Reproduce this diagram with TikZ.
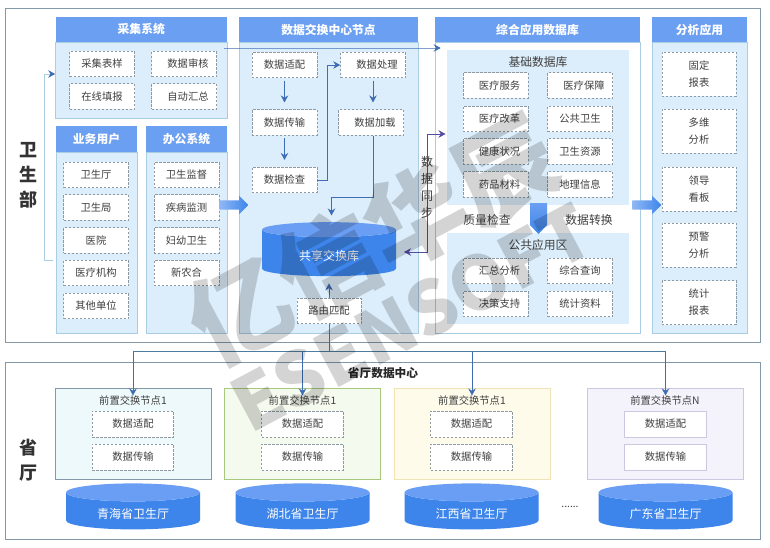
\documentclass[tikz,border=0pt]{standalone}
\usepackage{fontspec}
\setmainfont{Noto Sans CJK SC}
\usetikzlibrary{arrows.meta,shapes.geometric,shapes.arrows}
\definecolor{headblue}{HTML}{6B9FF2}
\definecolor{panelblue}{HTML}{DCEEFB}
\definecolor{panelline}{HTML}{A9CDE3}
\definecolor{frameline}{HTML}{8499A8}
\definecolor{dashline}{HTML}{8E9AA3}
\definecolor{bodytext}{HTML}{3F3F3F}
\definecolor{arrowblue}{HTML}{3F6DB5}
\definecolor{busline}{HTML}{4F7C9E}
\definecolor{cylbody}{HTML}{3D85EA}
\definecolor{cyltop}{HTML}{6A9EF4}
\definecolor{cyanfill}{HTML}{EEF9FC}
\definecolor{greenline}{HTML}{A8C87E}
\definecolor{greenfill}{HTML}{F5FAEF}
\definecolor{yellowline}{HTML}{F0E4B4}
\definecolor{yellowfill}{HTML}{FEFBEB}
\definecolor{violetline}{HTML}{CCC8E0}
\definecolor{violetfill}{HTML}{F4F2FB}
\newcommand{\dbtext}[1]{\smash{\raisebox{-7pt}{#1}}}
\begin{document}
\begin{tikzpicture}[x=1pt, y=-1pt,
	frame/.style = {draw=frameline, fill=white, line width=0.8pt, minimum width=755pt, inner sep=0pt},
	head/.style = {fill=headblue, draw=none, text=white, font=\fontsize{11.8}{14}\selectfont\bfseries, minimum height=25pt, inner sep=0pt},
	panel/.style = {fill=panelblue, draw=panelline, line width=0.6pt, inner sep=0pt},
	area/.style = {fill=panelblue, draw=none, minimum width=182pt, inner sep=0pt},
	box/.style = {draw=dashline, dashed, dash pattern=on 2.4pt off 1.6pt, line width=0.6pt, fill=white, text=bodytext, font=\fontsize{10.3}{17}\selectfont, align=center, minimum width=65pt, minimum height=25.5pt, inner sep=0pt},
	boxr/.style = {box, execute at begin node=\kern8pt},
	tall/.style = {box, minimum width=74pt, minimum height=44pt},
	wide/.style = {box, minimum width=81.5pt, minimum height=26pt},
	front/.style = {line width=0.8pt, minimum width=156pt, minimum height=91pt, inner sep=0pt},
	txt/.style = {text=bodytext, font=\fontsize{11.8}{14}\selectfont, inner sep=0pt},
	small/.style = {text=bodytext, font=\fontsize{10.3}{12}\selectfont, inner sep=0pt},
	side/.style = {text=black!80, font=\fontsize{18}{25}\selectfont\bfseries, align=center, inner sep=0pt},
	db/.style = {cylinder, shape border rotate=90, cylinder uses custom fill, cylinder body fill=cylbody, cylinder end fill=cyltop, draw=none, shape aspect=0.25, minimum width=134pt, inner sep=0pt, text=white, font=\fontsize{12}{14}\selectfont},
	flow/.style = {draw=arrowblue, line width=0.8pt, -{Stealth[length=7pt,width=7.5pt]}},
	bus/.style = {draw=busline, line width=0.8pt},
	syncline/.style = {draw=arrowblue!70!violet, line width=0.9pt, {Stealth[length=7pt,width=7.5pt]}-{Stealth[length=7pt,width=7.5pt]}},
	blockarrow/.style = {single arrow, draw=none, left color=headblue!75, right color=cylbody, minimum height=29pt, inner xsep=0pt, inner ysep=4.5pt, single arrow head extend=4.5pt, single arrow tip angle=90},
	water/.style = {text=black, opacity=0.17, rotate=28, inner sep=0pt}]
	\useasboundingbox (0,0) rectangle (770,548);

	% top frame
	\node[frame, minimum height=334pt] (top) at (382.5,175) {};
	\node[side] (wsb) at (28,175) {卫\\生\\部};

	% collect
	\node[panel, minimum width=171.5pt, minimum height=76pt] (caijip) at (141.25,80) {};
	\node[head, minimum width=171.5pt] (caiji) at (141.25,29.5) {采集系统};
	\node[box] (c1) at (102,64) {采集表样};
	\node[boxr] (c2) at (184,64) {数据审核};
	\node[box] (c3) at (102,96.5) {在线填报};
	\node[boxr] (c4) at (184,96.5) {自动汇总};

	% users
	\node[panel, minimum width=81pt, minimum height=181pt] (yewup) at (96.5,242.5) {};
	\node[head, minimum width=81pt, minimum height=26pt] (yewu) at (96.5,139) {业务用户};
	\node[box] (u1) at (96,175) {卫生厅};
	\node[box] (u2) at (96,207.5) {卫生局};
	\node[box] (u3) at (96,240.5) {医院};
	\node[box] (u4) at (96,273) {医疗机构};
	\node[box] (u5) at (96,306) {其他单位};

	% office
	\node[panel, minimum width=81pt, minimum height=181pt] (bangp) at (186.5,242.5) {};
	\node[head, minimum width=81pt, minimum height=26pt] (bang) at (186.5,139) {办公系统};
	\node[box] (o1) at (186.5,175) {卫生监督};
	\node[box] (o2) at (186.5,207.5) {疾病监测};
	\node[box] (o3) at (186.5,240.5) {妇幼卫生};
	\node[box] (o4) at (186.5,273) {新农合};

	% exchange centre
	\node[panel, minimum width=179pt, minimum height=291pt] (jiaop) at (328.5,187.5) {};
	\node[head, minimum width=179pt] (jiao) at (328.5,29.5) {数据交换中心节点};
	\node[box] (e1) at (284.5,65) {数据适配};
	\node[boxr] (e2) at (373,65) {数据处理};
	\node[box] (e3) at (284.5,122.5) {数据传输};
	\node[boxr] (e4) at (371,122.5) {数据加载};
	\node[box] (e5) at (284.5,180) {数据检查};
	\node[db, minimum height=54pt] (share) at (329,253) {\dbtext{共享交换库}};
	\node[box, minimum width=64pt] (route) at (329,311) {路由匹配};

	% database
	\node[panel, fill=white, minimum width=205pt, minimum height=291pt] (zongp) at (537.5,187.5) {};
	\node[head, minimum width=205pt] (zong) at (537.5,29.5) {综合应用数据库};
	\node[area, minimum height=155pt] (jichu) at (538,127.5) {};
	\node[txt] (jichut) at (538,62) {基础数据库};
	\node[boxr] (b1) at (495.5,85.5) {医疗服务};
	\node[boxr] (b2) at (580,85.5) {医疗保障};
	\node[boxr] (b3) at (495.5,119) {医疗改革};
	\node[box] (b4) at (580,119) {公共卫生};
	\node[boxr] (b5) at (495.5,151.5) {健康状况};
	\node[box] (b6) at (580,151.5) {卫生资源};
	\node[boxr] (b7) at (495.5,184.5) {药品材料};
	\node[box] (b8) at (580,184.5) {地理信息};
	\node[txt] (check) at (487,220) {质量检查};
	\node[txt] (conv) at (589,220) {数据转换};
	\node[area, minimum height=91pt] (gong) at (538,278.5) {};
	\node[txt] (gongt) at (538,245) {公共应用区};
	\node[boxr] (p1) at (495.5,271) {汇总分析};
	\node[box] (p2) at (580,271) {综合查询};
	\node[boxr] (p3) at (495.5,304) {决策支持};
	\node[box] (p4) at (580,304) {统计资料};
	\shade[top color=headblue, bottom color=cylbody] (530,203) -- (547,203) -- (547,225) -- (538.5,234) -- (530,225) -- cycle;

	% analysis
	\node[panel, minimum width=95pt, minimum height=291pt] (fenp) at (699.5,187.5) {};
	\node[head, minimum width=95pt] (fen) at (699.5,29.5) {分析应用};
	\node[tall] (a1) at (699,74) {固定\\报表};
	\node[tall] (a2) at (699,131) {多维\\分析};
	\node[tall] (a3) at (699,189) {领导\\看板};
	\node[tall] (a4) at (699,245) {预警\\分析};
	\node[tall] (a5) at (699,302.5) {统计\\报表};

	% block arrows
	\node[blockarrow] (arr1) at (231.5,205) {};
	\node[blockarrow] (arr2) at (644.5,205) {};

	% lower frame
	\node[frame, minimum height=177pt] (low) at (382.5,450.5) {};
	\node[side] (prov) at (28,460.5) {省\\厅};
	\node[text=black!85, font=\fontsize{11.7}{14}\selectfont\bfseries, inner sep=0pt] (lowt) at (383,373.5) {省厅数据中心};

	\node[front, draw=frameline, fill=cyanfill] (n1) at (133,433.5) {};
	\node[small] (t1) at (133,400.5) {前置交换节点1};
	\node[wide] (n1a) at (133,424) {数据适配};
	\node[wide] (n1b) at (133,457) {数据传输};
	\node[db, minimum height=46pt] (s1) at (133,511) {\dbtext{青海省卫生厅}};

	\node[front, draw=greenline, fill=greenfill] (n2) at (302.5,433.5) {};
	\node[small] (t2) at (302.5,400.5) {前置交换节点1};
	\node[wide] (n2a) at (302.5,424) {数据适配};
	\node[wide] (n2b) at (302.5,457) {数据传输};
	\node[db, minimum height=46pt] (s2) at (302.5,511) {\dbtext{湖北省卫生厅}};

	\node[front, draw=yellowline, fill=yellowfill] (n3) at (472,433.5) {};
	\node[small] (t3) at (472,400.5) {前置交换节点1};
	\node[wide] (n3a) at (471.5,424) {数据适配};
	\node[wide] (n3b) at (471.5,457) {数据传输};
	\node[db, minimum height=46pt] (s3) at (471.5,511) {\dbtext{江西省卫生厅}};

	\node[front, draw=violetline, fill=violetfill] (n4) at (665,433.5) {};
	\node[small] (t4) at (665,400.5) {前置交换节点N};
	\node[wide, solid, draw=violetline] (n4a) at (665.5,424) {数据适配};
	\node[wide, solid, draw=violetline] (n4b) at (665.5,457) {数据传输};
	\node[db, minimum height=46pt] (s4) at (665.5,511) {\dbtext{广东省卫生厅}};
	\node[small] (dots) at (570,507) {......};

	% connectors
	\coordinate (in1) at (44,260);
	\coordinate (in2) at (44,74);
	\draw[draw=panelline, line width=0.9pt] (53,260) -- (in1) -- (in2);
	\draw[flow, draw=panelline, arrows={-{Stealth[length=7pt,width=7.5pt,color=arrowblue]}}] (in2) -- (caijip.west |- in2);
	\coordinate (cross) at (224,48);
	\draw[flow] (cross) -- (zongp.west |- cross) -- +(6,0);
	\draw[flow, shorten <=2.5pt, shorten >=7pt] (e1) -- (e3);
	\draw[flow, shorten <=2.5pt, shorten >=7pt] (e3) -- (e5);
	\draw[flow, shorten <=2.5pt, shorten >=7pt] (e2.south) -- (e2.south |- e4.north);
	\coordinate (up) at (327,180);
	\draw[flow] (e5.east) -- (up) -- (up |- e2) -- (e2.west);
	\coordinate (dn1) at (373,197);
	\coordinate (dn2) at (331.5,197);
	\draw[flow] (e4.south -| dn1) -- (dn1) -- (dn2) -- (331.5,215.5);
	\draw[flow, shorten >=7pt] (route.north) -- (share.south);
	\coordinate (sync) at (427,134);
	\coordinate (syncd) at (427,252);
	\draw[syncline] (445.5,134) -- (sync) -- (syncd) -- (404,252);
	\node[side, font=\fontsize{12}{17}\selectfont, text=bodytext] (syncl) at (427,187.5) {数\\据\\同\\步};
	\coordinate (b1c) at (133,351.7);
	\coordinate (b2c) at (302.5,351.7);
	\coordinate (b3c) at (472,351.7);
	\coordinate (b4c) at (665.5,351.7);
	\draw[bus] (route.south) -- (route.south |- b1c);
	\draw[bus] (b1c) -- (b4c);
	\draw[flow] (b1c) -- (t1.north);
	\draw[flow] (b2c) -- (t2.north);
	\draw[flow] (b3c) -- (t3.north);
	\draw[flow] (b4c) -- (t4.north -| b4c);

	% watermark
	\node[water, font=\fontsize{100}{100}\selectfont\bfseries] (wm1) at (372,240) {亿信华辰};
	\node[water, font=\fontsize{74}{74}\selectfont\bfseries] (wm2) at (412,318) {ESENSOFT};
\end{tikzpicture}
\end{document}
